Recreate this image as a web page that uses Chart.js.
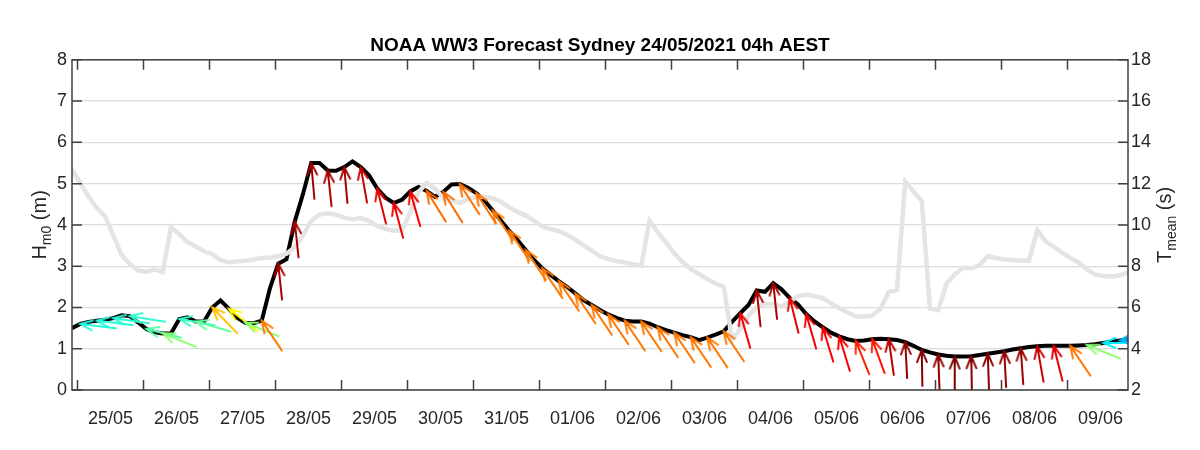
<!DOCTYPE html>
<html>
<head>
<meta charset="utf-8">
<script src="https://cdn.jsdelivr.net/npm/chart.js@4.4.1/dist/chart.umd.min.js"></script>
<style>
  html, body { margin: 0; padding: 0; background: #fff; }
</style>
</head>
<body>
<canvas id="myChart" width="1200" height="450"></canvas>
<script>
// chart text
const TITLE = 'NOAA WW3 Forecast Sydney 24/05/2021 04h AEST';
const DAY_LABELS = ['25/05', '26/05', '27/05', '28/05', '29/05', '30/05', '31/05', '01/06',
  '02/06', '03/06', '04/06', '05/06', '06/06', '07/06', '08/06', '09/06'];

// time axis: hours after 25/05 00h, one value every 3 h
const START_HOUR = -2;
const STEP_HOURS = 3;

// significant wave height (m), 3-hourly
const HM0 = [
  1.50, 1.60, 1.65, 1.68, 1.70, 1.74, 1.81, 1.79, 1.64, 1.48,
  1.40, 1.37, 1.37, 1.72, 1.76, 1.66, 1.66, 2.00, 2.17, 1.97,
  1.75, 1.63, 1.62, 1.68, 2.47, 3.06, 3.17, 4.08, 4.75, 5.50,
  5.50, 5.32, 5.31, 5.40, 5.54, 5.40, 5.20, 4.88, 4.66, 4.53,
  4.61, 4.81, 4.92, 4.82, 4.68, 4.80, 4.98, 4.99, 4.90, 4.77,
  4.59, 4.35, 4.10, 3.86, 3.63, 3.39, 3.15, 2.95, 2.79, 2.64,
  2.50, 2.34, 2.18, 2.06, 1.94, 1.83, 1.75, 1.68, 1.66, 1.66,
  1.61, 1.52, 1.45, 1.39, 1.33, 1.28, 1.21, 1.27, 1.34, 1.42,
  1.65, 1.86, 2.06, 2.41, 2.38, 2.59, 2.44, 2.23, 2.07, 1.84,
  1.66, 1.52, 1.39, 1.30, 1.23, 1.19, 1.20, 1.23, 1.24, 1.23,
  1.21, 1.16, 1.07, 0.97, 0.91, 0.86, 0.83, 0.81, 0.81, 0.82,
  0.85, 0.88, 0.91, 0.94, 0.98, 1.01, 1.04, 1.06, 1.07, 1.07,
  1.07, 1.07, 1.08, 1.09, 1.11, 1.14, 1.17, 1.20, 1.23
];

// mean period (s), 3-hourly
const TMEAN = [
  12.70, 12.03, 11.38, 10.83, 10.42, 9.50, 8.55, 8.10, 7.80, 7.72,
  7.85, 7.72, 9.90, 9.55, 9.17, 8.95, 8.72, 8.58, 8.30, 8.18,
  8.24, 8.26, 8.32, 8.40, 8.42, 8.48, 8.60, 8.92, 9.50, 10.20,
  10.50, 10.56, 10.50, 10.35, 10.26, 10.33, 10.20, 9.95, 9.80, 9.72,
  9.75, 10.60, 11.60, 12.03, 11.75, 11.30, 11.20, 11.06, 11.25, 11.36,
  11.36, 11.30, 11.12, 10.85, 10.63, 10.45, 10.20, 9.93, 9.80, 9.70,
  9.52, 9.28, 9.02, 8.75, 8.48, 8.34, 8.25, 8.18, 8.10, 8.02,
  10.20, 9.65, 9.15, 8.62, 8.20, 7.86, 7.62, 7.38, 7.16, 7.00,
  4.45, 4.95, 5.60, 6.02, 6.18, 6.15, 6.05, 6.28, 6.55, 6.62,
  6.55, 6.45, 6.20, 5.98, 5.75, 5.57, 5.55, 5.60, 5.95, 6.75,
  6.85, 12.10, 11.62, 11.15, 5.95, 5.87, 7.15, 7.60, 7.92, 7.90,
  8.05, 8.48, 8.40, 8.32, 8.30, 8.28, 8.27, 9.75, 9.20, 8.95,
  8.65, 8.40, 8.18, 7.85, 7.60, 7.52, 7.50, 7.56, 7.70
];

// wave direction (deg, coming from), every 6 h = every 2nd value starting at index 1
const DIR = [
  97, 97, 98, 99, 104, 112, 100, 106, 136, 128,
  112, 146, 174, 174, 175, 174, 175, 170, 166, 165,
  164, 148, 148, 147, 147, 146, 146, 146, 146, 146,
  146, 146, 146, 146, 146, 146, 146, 146, 146, 146,
  164, 174, 174, 166, 164, 163, 163, 158, 160, 172,
  177, 179, 178, 180, 179, 178, 177, 176, 170, 166,
  146, 112, 90, 82
];
const DIR_MIN = 40;
const DIR_MAX = 180;

const FONT = '"Liberation Sans", Arial, sans-serif';
const INK = '#262626';

const hours = HM0.map((v, i) => START_HOUR + i * STEP_HOURS);
const arrowIdx = DIR.map((d, j) => 2 * j + 1);

// jet colour map
function jet(v) {
  v = Math.max(0, Math.min(1, v));
  const c = t => Math.round(255 * Math.max(0, Math.min(1, t)));
  return 'rgb(' + c(Math.min(4 * v - 1.5, -4 * v + 4.5)) + ',' +
    c(Math.min(4 * v - 0.5, -4 * v + 3.5)) + ',' +
    c(Math.min(4 * v + 0.5, -4 * v + 2.5)) + ')';
}

// arrow sprite, tip in the middle, pointing right
const arrowCache = {};
function arrowImage(colour) {
  if (arrowCache[colour]) return arrowCache[colour];
  const L = 36, head = 13, ang = 22 * Math.PI / 180;
  const cv = document.createElement('canvas');
  cv.width = 2 * L + 8;
  cv.height = 2 * L + 8;
  const c = cv.getContext('2d');
  const cx = cv.width / 2, cy = cv.height / 2;
  c.strokeStyle = colour;
  c.lineWidth = 2;
  c.lineCap = 'round';
  c.beginPath();
  c.moveTo(cx - L, cy);
  c.lineTo(cx, cy);
  c.moveTo(cx - head * Math.cos(ang), cy - head * Math.sin(ang));
  c.lineTo(cx, cy);
  c.lineTo(cx - head * Math.cos(ang), cy + head * Math.sin(ang));
  c.stroke();
  arrowCache[colour] = cv;
  return cv;
}

// axis title with a subscript, rotated like matlab ylabel
function axisTitle(ctx, main, sub, rest, x, y) {
  const big = '20px ' + FONT, small = '14px ' + FONT;
  ctx.font = big;
  const w1 = ctx.measureText(main).width, w3 = ctx.measureText(rest).width;
  ctx.font = small;
  const w2 = ctx.measureText(sub).width;
  ctx.save();
  ctx.translate(x, y);
  ctx.rotate(-Math.PI / 2);
  ctx.fillStyle = INK;
  ctx.textAlign = 'left';
  ctx.textBaseline = 'alphabetic';
  let p = -(w1 + w2 + w3) / 2;
  ctx.font = big; ctx.fillText(main, p, 7); p += w1;
  ctx.font = small; ctx.fillText(sub, p, 12); p += w2;
  ctx.font = big; ctx.fillText(rest, p, 7);
  ctx.restore();
}

// box, inward ticks and axis titles
const framePlugin = {
  id: 'frame',
  afterDraw(chart) {
    const {ctx, chartArea: a, scales} = chart;
    const T = 10;
    ctx.save();
    ctx.strokeStyle = '#404040';
    ctx.lineWidth = 1.5;
    ctx.strokeRect(a.left, a.top, a.right - a.left, a.bottom - a.top);
    ctx.beginPath();
    for (let d = 0; d < DAY_LABELS.length; d++) {
      const x = scales.x.getPixelForValue(d * 24);
      if (x < a.left || x > a.right) continue;
      ctx.moveTo(x, a.bottom); ctx.lineTo(x, a.bottom - T);
      ctx.moveTo(x, a.top); ctx.lineTo(x, a.top + T);
    }
    scales.y.ticks.forEach(t => {
      const y = scales.y.getPixelForValue(t.value);
      ctx.moveTo(a.left, y); ctx.lineTo(a.left + T, y);
    });
    scales.y2.ticks.forEach(t => {
      const y = scales.y2.getPixelForValue(t.value);
      ctx.moveTo(a.right, y); ctx.lineTo(a.right - T, y);
    });
    ctx.stroke();
    const mid = (a.top + a.bottom) / 2;
    axisTitle(ctx, 'H', 'm0', ' (m)', a.left - 33, mid);
    axisTitle(ctx, 'T', 'mean', ' (s)', a.right + 36, mid);
    ctx.restore();
  }
};

new Chart(document.getElementById('myChart'), {
  type: 'line',
  data: {
    datasets: [
      {
        label: 'Hm0',
        data: hours.map((h, i) => ({x: h, y: HM0[i]})),
        borderColor: '#000',
        borderWidth: 4,
        pointRadius: 0,
        yAxisID: 'y',
        order: 2
      },
      {
        label: 'Tmean',
        data: hours.map((h, i) => ({x: h, y: TMEAN[i]})),
        borderColor: '#e4e4e4',
        borderWidth: 4.5,
        pointRadius: 0,
        yAxisID: 'y2',
        order: 1
      },
      {
        type: 'scatter',
        label: 'Dir',
        data: arrowIdx.map(i => ({x: hours[i], y: HM0[i]})),
        yAxisID: 'y',
        order: 0,
        clip: 0,
        pointRadius: 2,
        pointStyle: ctx => ctx.dataIndex === undefined ? 'circle'
          : arrowImage(jet((DIR[ctx.dataIndex] - DIR_MIN) / (DIR_MAX - DIR_MIN))),
        pointRotation: ctx => ctx.dataIndex === undefined ? 0 : DIR[ctx.dataIndex] + 90
      }
    ]
  },
  options: {
    responsive: false,
    animation: false,
    events: [],
    layout: {padding: 0},
    plugins: {
      legend: {display: false},
      tooltip: {enabled: false},
      title: {
        display: true,
        text: TITLE,
        color: '#000',
        font: {family: FONT, size: 19, weight: 'bold', lineHeight: 1.2},
        padding: {top: 34, bottom: 3}
      }
    },
    scales: {
      x: {
        type: 'linear',
        min: -2,
        max: 382,
        afterBuildTicks: s => { s.ticks = DAY_LABELS.map((l, i) => ({value: 12 + 24 * i})); },
        afterFit: s => { s.height = 60; },
        grid: {display: false},
        border: {display: false},
        ticks: {
          autoSkip: false,
          maxRotation: 0,
          padding: 10,
          color: INK,
          font: {family: FONT, size: 18},
          callback: (v, i) => DAY_LABELS[i]
        }
      },
      y: {
        position: 'left',
        min: 0,
        max: 8,
        afterFit: s => { s.width = 72; },
        grid: {color: '#dcdcdc', lineWidth: 1.2, drawTicks: false},
        border: {display: false},
        ticks: {stepSize: 1, padding: 5, color: INK, font: {family: FONT, size: 18}}
      },
      y2: {
        position: 'right',
        min: 2,
        max: 18,
        afterFit: s => { s.width = 72; },
        grid: {display: false, drawTicks: false},
        border: {display: false},
        ticks: {stepSize: 2, padding: 3, color: INK, font: {family: FONT, size: 18}}
      }
    }
  },
  plugins: [framePlugin]
});
</script>
</body>
</html>
